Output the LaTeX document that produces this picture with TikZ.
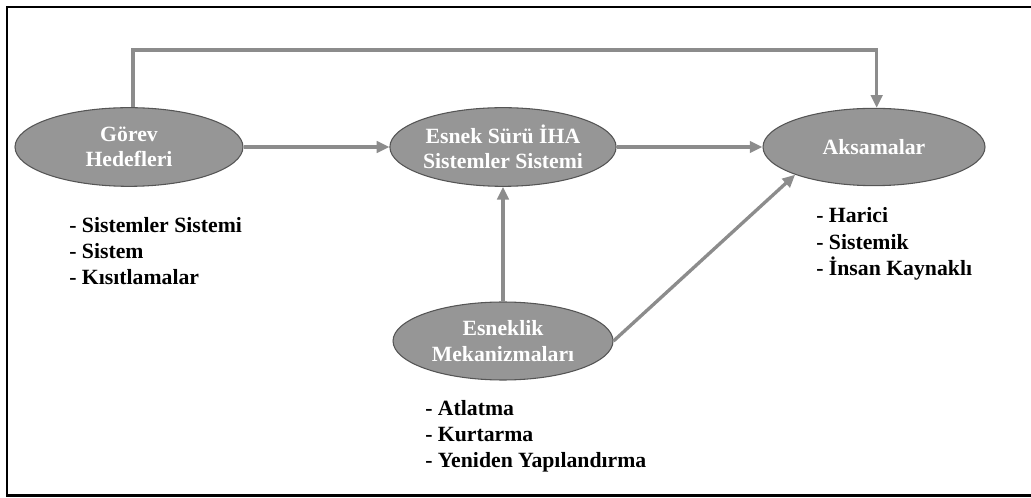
\documentclass[tikz,border=0pt]{standalone}
\usepackage{fontspec}
\setmainfont{Liberation Serif}
\usetikzlibrary{arrows.meta,shapes.geometric}
\definecolor{ellfill}{RGB}{150,150,150}
\definecolor{ellline}{RGB}{85,85,85}
\definecolor{arrcol}{RGB}{140,140,140}
\tikzset{
  oval/.style={ellipse, draw=ellline, line width=0.8pt, fill=ellfill, inner sep=0pt,
    text=white, align=center, font=\fontsize{16.3}{19}\selectfont\bfseries},
  conn/.style={draw=arrcol, line width=2.5pt, -{Triangle[length=9.5pt,width=8.5pt]}},
  listitem/.style={anchor=base west, inner sep=0pt, font=\fontsize{16.3}{19.5}\selectfont\bfseries}
}
\begin{document}
\begin{tikzpicture}[x=0.75pt,y=-0.75pt]
\useasboundingbox (0,0) rectangle (1031,498);
\clip (0,0) rectangle (1031,498);
\draw[line width=1.6pt, black] (7,7) rectangle (1040,495.5);

\node[oval, minimum width=171pt, minimum height=59pt] (gh) at (129,147) {Görev\\Hedefleri};
\node[oval, minimum width=165pt, minimum height=59pt] (es) at (503,147) {Esnek Sürü İHA\\Sistemler Sistemi};
\node[oval, minimum width=166.5pt, minimum height=58pt] (ak) at (874,147) {Aksamalar};
\node[oval, minimum width=165pt, minimum height=58.5pt] (em) at (503,341) {Esneklik\\Mekanizmaları};

\coordinate (top) at (0,50);
\draw[conn] (gh.east) -- (es.west);
\draw[conn] (es.east) -- (ak.west);
\draw[conn] ([xshift=3pt]gh.north) -- ([xshift=3pt]gh.north |- top) -| ([xshift=2pt]ak.north);
\draw[conn] (em.north) -- (es.south);
\draw[conn] (em.east) -- (ak.south west);

\node[listitem] (g1) at (69,233) {- Sistemler Sistemi};
\node[listitem] (g2) at (69,259) {- Sistem};
\node[listitem] (g3) at (69,285) {- Kısıtlamalar};

\node[listitem] (a1) at (816,223) {- Harici};
\node[listitem] (a2) at (816,250) {- Sistemik};
\node[listitem] (a3) at (816,276) {- İnsan Kaynaklı};

\node[listitem] (m1) at (425,416) {- Atlatma};
\node[listitem] (m2) at (425,442) {- Kurtarma};
\node[listitem] (m3) at (425,468) {- Yeniden Yapılandırma};
\end{tikzpicture}
\end{document}
